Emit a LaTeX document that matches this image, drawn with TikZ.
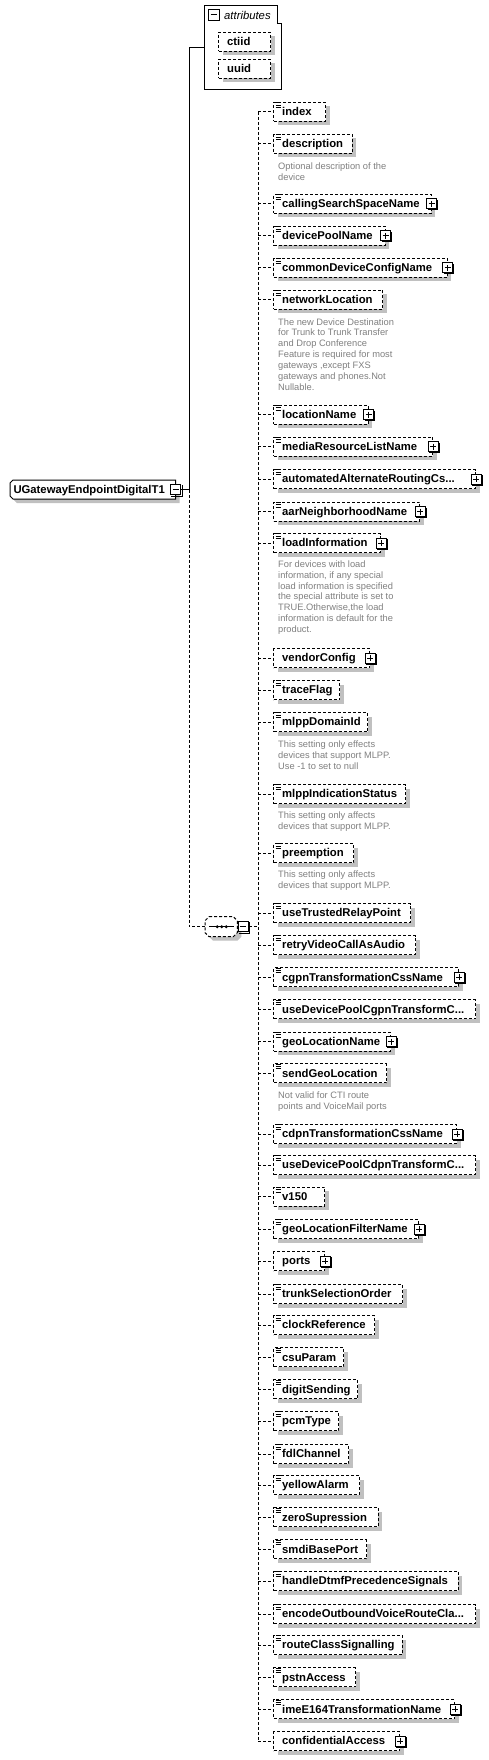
\documentclass[tikz,border=0pt]{standalone}
\usepackage{fontspec}
\setmainfont{Liberation Sans}
\usetikzlibrary{shadows}
\definecolor{shadowgray}{RGB}{192,192,192}
\definecolor{descgray}{RGB}{128,128,128}
\newcommand\threedots{...}
\tikzset{
  conn/.style={line width=1pt, dash pattern=on 3pt off 2pt},
  solidconn/.style={line width=1pt},
  boxshadow/.style={drop shadow={shadow xshift=4pt, shadow yshift=-4pt, fill=shadowgray, opacity=1}},
  elem/.style={draw, line width=1pt, dash pattern=on 3pt off 2pt, fill=white, rectangle,
    minimum height=19pt, inner xsep=8.4pt, inner ysep=0pt, anchor=west,
    text height=8.6pt, text depth=1.2pt, align=left,
    font=\fontsize{11.3}{13}\selectfont\bfseries, boxshadow},
  descr/.style={font=\fontsize{9.3}{10.9}\selectfont, text=descgray, align=left, anchor=north west, inner sep=0pt},
  iconbox/.style={draw, fill=white, line width=1pt, minimum size=10pt, inner sep=0pt, rectangle},
  iconline/.style={line width=0.8pt},
  pics/plusicon/.style={code={
    \draw[line width=1pt, fill=white] (-5,-5) rectangle (5,5);
    \draw[line width=1pt] (6,-4) -- (6,6) -- (-4,6);
    \draw[line width=1pt] (-3,0) -- (3,0) (0,-3) -- (0,3);
  }},
}
\begin{document}
\begin{tikzpicture}[x=1pt,y=-1pt]
\useasboundingbox (0,0) rectangle (489,1760);
\fill[white] (0,0) rectangle (489,1760);

% attributes group
\draw[line width=1pt, fill=white] (204.3,5.3) -- (277.3,5.3) -- (277.3,23.3) -- (281.7,23.3) -- (281.7,89.3) -- (204.3,89.3) -- cycle;
\node[iconbox, minimum size=11pt] (attrminus) at (213.5,14.8) {};
\draw[line width=1pt] ([xshift=-3pt]attrminus.center) -- ([xshift=3pt]attrminus.center);
\node[anchor=west, inner sep=0pt, font=\fontsize{11.3}{13}\selectfont\itshape] (attrtitle) at (224,15) {attributes};
\node[elem, text width=34.9pt] (ctiid) at (218.3,41.7) {ctiid};
\node[elem, text width=34.9pt] (uuid) at (218.3,68.8) {uuid};
\coordinate (attrin) at (204.3,47.7);

% root element
\fill[shadowgray] (17,484) -- (179.7,484) -- (179.7,503) -- (17,503) -- (14,500) -- (14,487) -- cycle;
\draw[line width=1pt, fill=white] (13,480) -- (175.7,480) -- (175.7,499) -- (13,499) -- (10,496) -- (10,483) -- cycle;
\node[rectangle, inner xsep=3.3pt, inner ysep=0pt, minimum height=19pt, text width=159.1pt, align=left,
  anchor=west, text height=8.6pt, text depth=1.2pt, font=\fontsize{11.3}{13}\selectfont\bfseries]
  (root) at (10,489.5) {UGatewayEndpointDigitalT1};
\node[iconbox] (rootminus) at (175.5,489.5) {};
\draw[line width=1pt] ([xshift=-3pt]rootminus.center) -- ([xshift=3pt]rootminus.center);
\draw[line width=1pt] ([xshift=1pt,yshift=-1pt]rootminus.north east) -- ([xshift=1pt,yshift=-1pt]rootminus.south east) -- ([xshift=1pt,yshift=-1pt]rootminus.south west);

\coordinate (junction) at (189.3,489.5);
\draw[solidconn] (rootminus.east) -- (junction) |- (attrin);

% sequence compositor
\fill[shadowgray] (213,920.7) -- (237.3,920.7) -- (241.3,924.7) -- (241.3,936.7) -- (237.3,940.7) -- (213,940.7) -- (209,936.7) -- (209,924.7) -- cycle;
\draw[conn, fill=white] (209,916.7) -- (233.3,916.7) -- (237.3,920.7) -- (237.3,932.7) -- (233.3,936.7) -- (209,936.7) -- (205,932.7) -- (205,920.7) -- cycle;
\node[minimum width=32.3pt, minimum height=20pt, inner sep=0pt, anchor=west] (seq) at (205,926.7) {};
\draw[line width=1pt] (209.3,926.7) -- (234.3,926.7);
\fill (217.3,926.7) circle (1.6pt) (221.8,926.7) circle (1.6pt) (226.3,926.7) circle (1.6pt);
\node[iconbox] (seqminus) at (243.3,926.7) {};
\draw[line width=1pt] ([xshift=-3pt]seqminus.center) -- ([xshift=3pt]seqminus.center);
\draw[line width=1pt] ([xshift=1pt,yshift=-1pt]seqminus.north east) -- ([xshift=1pt,yshift=-1pt]seqminus.south east) -- ([xshift=1pt,yshift=-1pt]seqminus.south west);
\draw[conn] (junction) |- (seq.west);
\coordinate (spine) at (258.3,926.7);
\draw[conn] (seqminus.east) -- (spine);

% child elements
\foreach \lab/\yy/\rr/\pl/\ic [count=\i] in {
  index/112/325/0/1,
  description/144/351.7/0/1,
  callingSearchSpaceName/204/430.7/1/1,
  devicePoolName/236/384.7/1/1,
  commonDeviceConfigName/268/446.7/1/1,
  networkLocation/300/382.3/0/1,
  locationName/414.7/367.7/1/1,
  mediaResourceListName/446.7/432.3/1/1,
  automatedAlternateRoutingCs\threedots/479/475/1/1,
  aarNeighborhoodName/511.5/419.3/1/1,
  loadInformation/543/380/1/1,
  vendorConfig/658/369.3/1/0,
  traceFlag/690/339.3/0/1,
  mlppDomainId/722/367.3/0/1,
  mlppIndicationStatus/794/405/0/1,
  preemption/853/353.3/0/1,
  useTrustedRelayPoint/913/410/0/1,
  retryVideoCallAsAudio/945/415/0/1,
  cgpnTransformationCssName/977.3/458.3/1/1,
  useDevicePoolCgpnTransformC\threedots/1009.3/475/0/1,
  geoLocationName/1041.7/390/1/1,
  sendGeoLocation/1073.3/386/0/1,
  cdpnTransformationCssName/1134/456/1/1,
  useDevicePoolCdpnTransformC\threedots/1165/475/0/1,
  v150/1196.7/324.3/0/1,
  geoLocationFilterName/1229/418.3/1/1,
  ports/1261/324.3/1/0,
  trunkSelectionOrder/1294/402.3/0/1,
  clockReference/1325/374.3/0/1,
  csuParam/1357.3/343.3/0/1,
  digitSending/1389.3/357.3/0/1,
  pcmType/1421/338.3/0/1,
  fdlChannel/1454/348.3/0/1,
  yellowAlarm/1485/359/0/1,
  zeroSupression/1517.3/377.7/0/1,
  smdiBasePort/1549.3/366/0/1,
  handleDtmfPrecedenceSignals/1581/457.7/0/1,
  encodeOutboundVoiceRouteCla\threedots/1614/475/0/1,
  routeClassSignalling/1645/401.7/0/1,
  pstnAccess/1677.3/355/0/1,
  imeE164TransformationName/1709.3/454/1/1,
  confidentialAccess/1741/399.3/1/0} {
  \pgfmathsetmacro\tw{\rr-273.3-16.8}
  \node[elem, text width=\tw pt] (e\i) at (273.3,\yy) {\lab};
  \draw[conn] (spine |- e\i.west) -- (e\i.west);
  \ifnum\ic=1
    \draw[iconline] (275.5,\yy-9.2) -- ++(5,0) (275.5,\yy-6.9) -- ++(5,0) (275.5,\yy-4.6) -- ++(5,0);
  \fi
  \ifnum\pl=1
    \pic at (e\i.east) {plusicon};
  \fi
}
\draw[conn] (spine |- e1.west) -- (spine |- e42.west);

% annotations
\node[descr] (d2) at (278,162.3) {Optional description of the\\device};
\node[descr] (d6) at (278,318.1) {The new Device Destination\\for Trunk to Trunk Transfer\\and Drop Conference\\Feature is required for most\\gateways ,except FXS\\gateways and phones.Not\\Nullable.};
\node[descr] (d11) at (278,560.3) {For devices with load\\information, if any special\\load information is specified\\the special attribute is set to\\TRUE.Otherwise,the load\\information is default for the\\product.};
\node[descr] (d14) at (278,740.6) {This setting only effects\\devices that support MLPP.\\Use -1 to set to null};
\node[descr] (d15) at (278,811.6) {This setting only affects\\devices that support MLPP.};
\node[descr] (d16) at (278,870.9) {This setting only affects\\devices that support MLPP.};
\node[descr] (d22) at (278,1091.6) {Not valid for CTI route\\points and VoiceMail ports};
\end{tikzpicture}
\end{document}
